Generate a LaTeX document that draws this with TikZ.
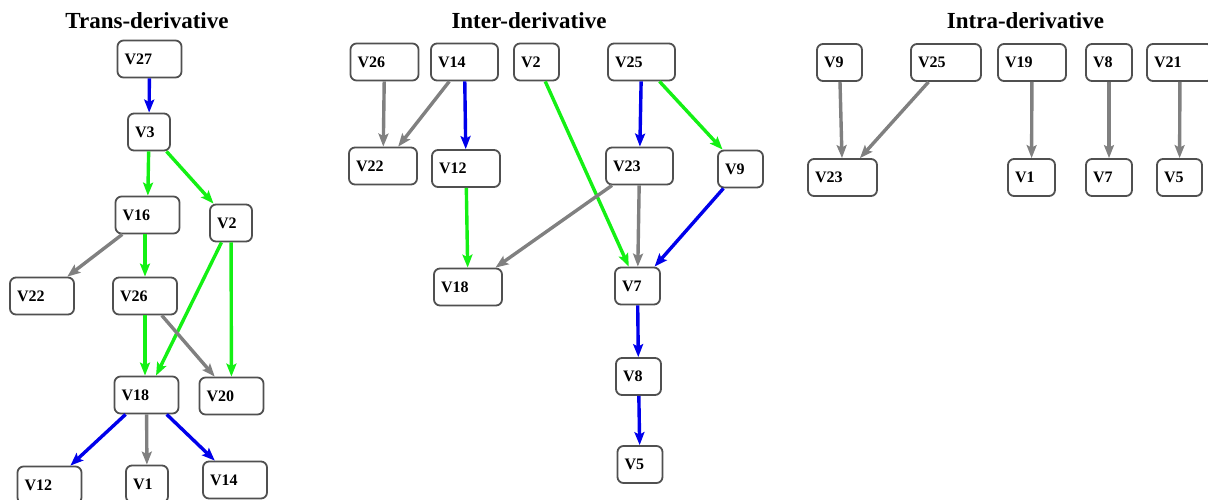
\documentclass[tikz,border=0pt]{standalone}
\usepackage{fontspec}
\setmainfont{Liberation Serif}
\usetikzlibrary{arrows.meta}
\definecolor{edgeblue}{RGB}{0,0,235}
\definecolor{edgegreen}{RGB}{20,240,20}
\definecolor{edgegray}{RGB}{128,128,128}
\definecolor{boxgray}{RGB}{80,80,80}
\tikzset{
  vbox/.style={draw=boxgray, line width=1.8pt, rounded corners=6pt, fill=white,
    minimum height=37pt, inner xsep=7pt, inner ysep=0pt, align=left,
    font=\bfseries\fontsize{16}{16}\selectfont},
  wbox/.style={vbox, text width=52pt},
  nbox/.style={vbox, text width=31pt},
  tbox/.style={vbox, text width=28pt},
  title/.style={anchor=base, font=\bfseries\fontsize{23}{24}\selectfont},
  link/.style={line width=3.4pt, -{Stealth[length=13pt,width=10pt,inset=2.5pt]}},
  blue link/.style={link, edgeblue},
  green link/.style={link, edgegreen},
  gray link/.style={link, edgegray}
}
\begin{document}
\begin{tikzpicture}[x=1pt, y=-1pt]
  \useasboundingbox (0,0) rectangle (1208,499);

  % Trans-derivative
  \node [title] (ttitle) at (147,28) {Trans-derivative};
  \node [wbox, text width=50pt] (t27) at (149.5,59) {V27};
  \node [tbox] (t3)  at (149,132) {V3};
  \node [wbox, text width=50pt] (t16) at (147.5,215) {V16};
  \node [tbox] (t2)  at (231,223) {V2};
  \node [wbox, text width=50pt] (t22) at (42,296) {V22};
  \node [wbox, text width=50pt] (t26) at (145,296) {V26};
  \node [wbox, text width=50pt] (t18) at (146.5,395) {V18};
  \node [wbox, text width=50pt] (t20) at (231.5,396) {V20};
  \node [wbox, text width=50pt] (t12) at (49.5,485) {V12};
  \node [tbox] (t1)  at (147,484) {V1};
  \node [wbox, text width=50pt] (t14) at (235,480) {V14};

  \draw [blue link] (t27) -- (t3);
  \draw [green link] (t3) -- (t16);
  \draw [green link] (t3) -- (t2);
  \draw [gray link] (t16) -- (t22);
  \draw [green link] (t16.south -| t26) -- (t26);
  \draw [green link] (t2) -- (t20);
  \draw [green link] (t2) -- (t18);
  \draw [green link] (t26) -- (t26 |- t18.north);
  \draw [gray link] (t26) -- (t20);
  \draw [blue link] (t18) -- (t12);
  \draw [gray link] (t18) -- (t1);
  \draw [blue link] (t18) -- (t14);

  % Inter-derivative
  \node [title] (etitle) at (529,28) {Inter-derivative};
  \node [wbox, text width=54pt] (e26) at (384.5,62) {V26};
  \node [wbox, text width=53pt] (e14) at (464.5,62) {V14};
  \node [nbox] (e2)  at (536.5,62) {V2};
  \node [wbox, text width=53pt] (e25) at (641.5,62) {V25};
  \node [wbox, text width=54pt] (e22) at (383,166) {V22};
  \node [wbox, text width=54pt] (e12) at (466,168.5) {V12};
  \node [wbox, text width=53pt] (e23) at (639.5,166) {V23};
  \node [nbox] (e9)  at (740.5,169) {V9};
  \node [wbox, text width=54pt] (e18) at (468,287) {V18};
  \node [nbox] (e7)  at (637.5,286) {V7};
  \node [nbox] (e8)  at (638.5,376.5) {V8};
  \node [nbox] (e5)  at (640,464.5) {V5};

  \draw [gray link] (e26) -- (e22);
  \draw [gray link] (e14) -- (e22);
  \draw [blue link] (e14) -- (e12);
  \draw [green link] (e2) -- (e7);
  \draw [blue link] (e25) -- (e23);
  \draw [green link] (e25) -- (e9);
  \draw [green link] (e12) -- (e18);
  \draw [gray link] (e23) -- (e18);
  \draw [gray link] (e23) -- (e7);
  \draw [blue link] (e9) -- (e7);
  \draw [blue link] (e7) -- (e8);
  \draw [blue link] (e8) -- (e5);

  % Intra-derivative
  \node [title] (atitle) at (1025.5,28) {Intra-derivative};
  \node [nbox] (a9)  at (839.5,62.5) {V9};
  \node [wbox, text width=56pt] (a25) at (946,62.5) {V25};
  \node [wbox, text width=54pt] (a19) at (1032,62.5) {V19};
  \node [nbox, text width=32pt] (a8)  at (1109,62.5) {V8};
  \node [wbox, text width=52pt] (a21) at (1180,62.5) {V21};
  \node [wbox, text width=55pt] (a23) at (842.5,177.5) {V23};
  \node [nbox, text width=33pt] (a1)  at (1031.5,177.5) {V1};
  \node [nbox, text width=32pt] (a7)  at (1109,177.5) {V7};
  \node [nbox] (a5)  at (1179.5,177.5) {V5};

  \draw [gray link] (a9) -- (a23);
  \draw [gray link] (a25) -- (a23);
  \draw [gray link] (a19) -- (a1);
  \draw [gray link] (a8) -- (a7);
  \draw [gray link] (a21) -- (a5);
\end{tikzpicture}
\end{document}
